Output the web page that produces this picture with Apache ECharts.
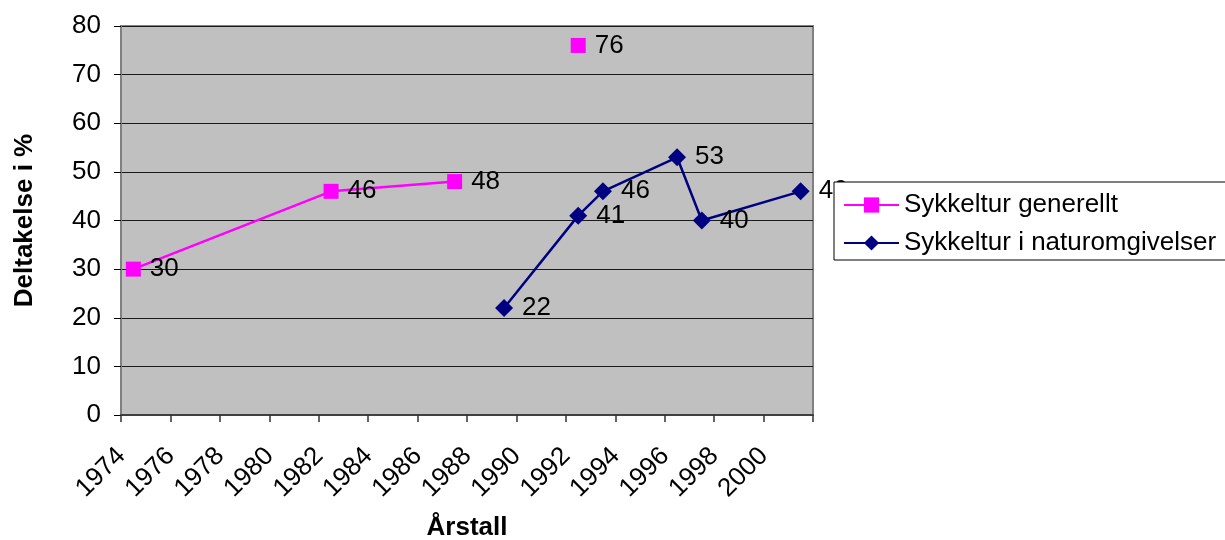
<!DOCTYPE html>
<html>
<head>
<meta charset="utf-8">
<script src="https://cdn.jsdelivr.net/npm/echarts@6/dist/echarts.min.js"></script>
<style>
  html, body { margin: 0; padding: 0; background: #fff; }
  #chart { width: 1225px; height: 540px; }
</style>
</head>
<body>
<div id="chart"></div>
<script>
// Year axis (every year shown as a category; labels every second year)
const years = ['1974','1975','1976','1977','1978','1979','1980','1981','1982','1983',
               '1984','1985','1986','1987','1988','1989','1990','1991','1992','1993',
               '1994','1995','1996','1997','1998','1999','2000','2001'];

// Survey years and participation (%) per survey; null = not measured
const surveyYears  = ['1974','1982','1987','1989','1992','1993','1996','1997','2001'];
const generellt    = [30,    46,    48,    null,  76,    null,  null,  null,  null];
const naturomgiv   = [null,  null,  null,  22,    41,    46,    53,    40,    46];

const yTicks = [0, 10, 20, 30, 40, 50, 60, 70, 80];

const FONT = 'Arial, "Liberation Sans", sans-serif';
const FS = 26;

function pairs(values) {
  return surveyYears.map((y, i) => [y, values[i] == null ? '-' : values[i]]);
}

const valueLabel = {
  show: true,
  position: 'right',
  distance: 9,
  color: '#000',
  fontFamily: FONT,
  fontSize: FS
};

const chart = echarts.init(document.getElementById('chart'), null, { renderer: 'canvas' });

chart.setOption({
  animation: false,
  backgroundColor: '#fff',
  grid: {
    left: 121, right: 412, top: 26, bottom: 125,
    containLabel: false,
    outerBoundsMode: 'none',
    show: true,
    backgroundColor: '#C0C0C0',
    borderColor: '#808080',
    borderWidth: 2
  },
  legend: {
    orient: 'vertical',
    left: 834,
    top: 182,
    padding: [10, 14, 4, 9],
    itemGap: 12,
    itemWidth: 55,
    itemHeight: 19,
    backgroundColor: '#fff',
    borderColor: '#000',
    borderWidth: 1,
    borderRadius: 0,
    textStyle: { fontFamily: FONT, fontSize: FS, color: '#000' },
    data: ['Sykkeltur generellt', 'Sykkeltur i naturomgivelser']
  },
  xAxis: {
    type: 'category',
    data: years,
    boundaryGap: true,
    name: 'Årstall',
    nameLocation: 'middle',
    nameGap: 100,
    nameTextStyle: { fontFamily: FONT, fontSize: FS, fontWeight: 'bold', color: '#000' },
    axisLine: { show: true, lineStyle: { color: '#404040', width: 2 } },
    axisTick: { show: true, interval: 1, length: 7, lineStyle: { color: '#333', width: 1.5 } },
    axisLabel: {
      interval: 1,
      rotate: 45,
      margin: 25,
      padding: [0, 17, 0, 0],
      fontFamily: FONT,
      fontSize: FS,
      color: '#000'
    },
    splitLine: { show: false }
  },
  yAxis: {
    type: 'value',
    min: yTicks[0],
    max: yTicks[yTicks.length - 1],
    interval: 10,
    name: 'Deltakelse i %',
    nameLocation: 'middle',
    nameRotate: 90,
    nameGap: 83,
    nameTextStyle: { fontFamily: FONT, fontSize: FS, fontWeight: 'bold', color: '#000' },
    axisLine: { show: true, lineStyle: { color: '#808080', width: 2 } },
    axisTick: { show: true, length: 7, lineStyle: { color: '#000', width: 1 } },
    axisLabel: { margin: 20, fontFamily: FONT, fontSize: FS, color: '#000' },
    splitLine: { show: true, lineStyle: { color: '#1a1a1a', width: 1 } }
  },
  series: [
    {
      name: 'Sykkeltur generellt',
      type: 'line',
      data: pairs(generellt),
      connectNulls: false,
      showAllSymbol: true,
      symbol: 'rect',
      symbolSize: 15,
      color: '#FF00FF',
      lineStyle: { color: '#FF00FF', width: 2.5 },
      itemStyle: { color: '#FF00FF' },
      label: valueLabel,
      labelLayout: { hideOverlap: false }
    },
    {
      name: 'Sykkeltur i naturomgivelser',
      type: 'line',
      data: pairs(naturomgiv),
      connectNulls: false,
      showAllSymbol: true,
      symbol: 'diamond',
      symbolSize: 18,
      color: '#000080',
      lineStyle: { color: '#000080', width: 2.5 },
      itemStyle: { color: '#000080' },
      label: valueLabel,
      labelLayout: { hideOverlap: false }
    }
  ]
});
</script>
</body>
</html>
